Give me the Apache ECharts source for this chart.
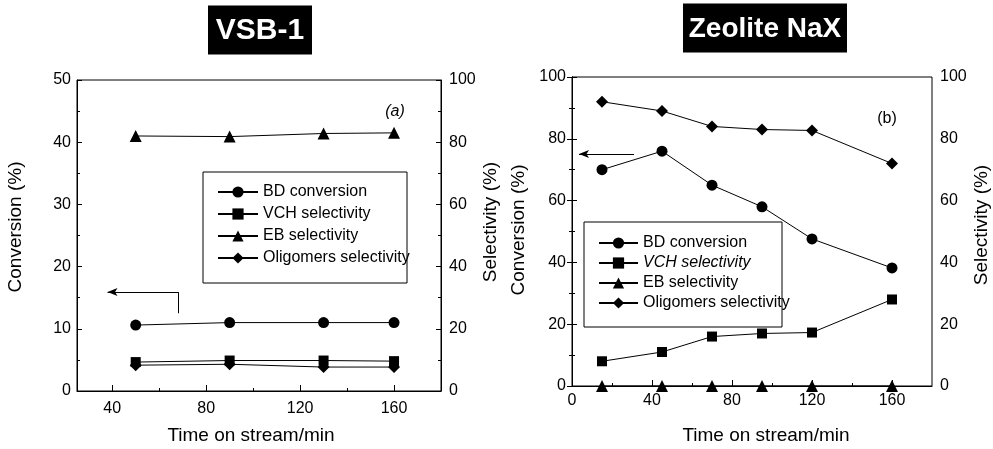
<!DOCTYPE html>
<html>
<head>
<meta charset="utf-8">
<title>VSB-1 vs Zeolite NaX</title>
<script src="https://cdn.jsdelivr.net/npm/echarts@6.0.0/dist/echarts.min.js"></script>
<style>
  html, body { margin: 0; padding: 0; background: #fff; }
  #chart { width: 993px; height: 449px; }
</style>
</head>
<body>
<div id="chart"></div>
<script>
// panel (a) VSB-1
const timeA = [50, 90, 130, 160]
const bdConvA = [10.6, 11, 11, 11]
const vchSelA = [9.3, 9.8, 9.8, 9.6]
const ebSelA = [82, 81.8, 82.8, 83]
const oligSelA = [8.3, 8.6, 7.7, 7.7]

// panel (b) Zeolite NaX
const timeB = [15, 45, 70, 95, 120, 160]
const bdConvB = [70, 76, 65, 58, 47.6, 38.2]
const vchSelB = [8, 11, 16, 17, 17.3, 28]
const ebSelB = [0, 0, 0, 0, 0, 0]
const oligSelB = [92, 89, 84, 83, 82.7, 72]

// tick labels
const xTicksA = [40, 80, 120, 160]
const xMinorA = [60, 100, 140]
const xTicksB = [0, 40, 80, 120, 160]
const xMinorB = [20, 60, 100, 140]

const legendNames = ['BD conversion', 'VCH selectivity', 'EB selectivity', 'Oligomers selectivity']
const symbols = ['circle', 'rect', 'triangle', 'diamond']
const symbolSizes = [11, 10, 12, 12]

// arrows pointing to the conversion axis
const arrowA = [[68, 12.5], [68, 15.9], [38, 15.9]]
const arrowB = [[31, 75.1], [3.5, 75.1]]

const FONT = 'Liberation Sans, Arial, sans-serif'

function pairs(xs, ys) {
  return xs.map((x, i) => [x, ys[i]])
}

function valueAxisY(gridIndex, max, interval, position) {
  return {
    type: 'value',
    gridIndex: gridIndex,
    position: position,
    min: 0,
    max: max,
    interval: interval,
    splitLine: { show: false },
    axisLine: { show: true, lineStyle: { color: '#000', width: 1 } },
    axisTick: { show: true, inside: true, length: 5, lineStyle: { color: '#000' } },
    minorTick: { show: true, splitNumber: 2, length: 3, lineStyle: { color: '#000' } },
    axisLabel: { color: '#000', fontSize: 16, fontFamily: FONT, margin: position === 'left' ? 6 : 8 }
  }
}

function xAxisMain(gridIndex, min, ticks, margin) {
  return {
    type: 'value',
    gridIndex: gridIndex,
    min: min,
    max: 180,
    splitLine: { show: false },
    axisLine: { show: true, onZero: false, lineStyle: { color: '#000', width: 1 } },
    axisTick: { show: true, inside: true, length: 6, customValues: ticks, lineStyle: { color: '#000' } },
    axisLabel: { color: '#000', fontSize: 16, fontFamily: FONT, margin: margin, customValues: ticks }
  }
}

function xAxisMinor(gridIndex, min, ticks) {
  return {
    type: 'value',
    gridIndex: gridIndex,
    position: 'bottom',
    min: min,
    max: 180,
    splitLine: { show: false },
    axisLine: { show: false, onZero: false },
    axisTick: { show: true, inside: true, length: 3, customValues: ticks, lineStyle: { color: '#000' } },
    axisLabel: { show: false }
  }
}

function lineSeries(k, xAxisIndex, yAxisIndex, data) {
  return {
    name: legendNames[k],
    type: 'line',
    xAxisIndex: xAxisIndex,
    yAxisIndex: yAxisIndex,
    data: data,
    symbol: symbols[k],
    symbolSize: symbolSizes[k],
    lineStyle: { color: '#000', width: 1 },
    itemStyle: { color: '#000' },
    silent: true,
    animation: false
  }
}

function arrow(points) {
  const data = []
  for (let i = 0; i < points.length - 1; i++) {
    const last = i === points.length - 2
    data.push([
      { coord: points[i], symbol: 'none' },
      { coord: points[i + 1], symbol: last ? 'arrow' : 'none', symbolSize: [6, 10] }
    ])
  }
  return {
    silent: true,
    label: { show: false },
    lineStyle: { color: '#000', width: 1, type: 'solid' },
    data: data
  }
}

function titleBox(cx, cy, w, h, text, size) {
  return {
    type: 'group',
    children: [
      { type: 'rect', shape: { x: cx - w / 2, y: cy - h / 2, width: w, height: h }, style: { fill: '#000' } },
      {
        type: 'text', x: cx, y: cy + 1,
        style: { text: text, fill: '#fff', font: 'bold ' + size + 'px ' + FONT, align: 'center', verticalAlign: 'middle' }
      }
    ]
  }
}

function vText(x, y, text) {
  return {
    type: 'text', x: x, y: y, rotation: Math.PI / 2,
    style: { text: text, fill: '#000', font: '19px ' + FONT, align: 'center', verticalAlign: 'middle' }
  }
}

function hText(x, y, text, font) {
  return {
    type: 'text', x: x, y: y,
    style: { text: text, fill: '#000', font: font || '19px ' + FONT, align: 'center', verticalAlign: 'middle' }
  }
}

const seriesA = [
  lineSeries(0, 0, 0, pairs(timeA, bdConvA)),
  lineSeries(1, 0, 1, pairs(timeA, vchSelA)),
  lineSeries(2, 0, 1, pairs(timeA, ebSelA)),
  lineSeries(3, 0, 1, pairs(timeA, oligSelA))
]
seriesA[0].markLine = arrow(arrowA)

const seriesB = [
  lineSeries(0, 2, 2, pairs(timeB, bdConvB)),
  lineSeries(1, 2, 3, pairs(timeB, vchSelB)),
  lineSeries(2, 2, 3, pairs(timeB, ebSelB)),
  lineSeries(3, 2, 3, pairs(timeB, oligSelB))
]
seriesB[0].markLine = arrow(arrowB)

const legendBase = {
  orient: 'vertical',
  padding: 0,
  itemGap: 6,
  itemHeight: 14,
  selectedMode: false,
  textStyle: { color: '#000', fontSize: 16, fontFamily: FONT, lineHeight: 14 },
  data: legendNames
}

const option = {
  animation: false,
  backgroundColor: '#fff',
  grid: [
    { left: 77, top: 80, width: 364, height: 311, show: true, borderColor: '#000', borderWidth: 1 },
    { left: 572, top: 77, width: 360, height: 309, show: true, borderColor: '#000', borderWidth: 1 }
  ],
  xAxis: [
    xAxisMain(0, 25, xTicksA, 10),
    xAxisMinor(0, 25, xMinorA),
    xAxisMain(1, 0, xTicksB, 7),
    xAxisMinor(1, 0, xMinorB)
  ],
  yAxis: [
    valueAxisY(0, 50, 10, 'left'),
    valueAxisY(0, 100, 20, 'right'),
    valueAxisY(1, 100, 20, 'left'),
    valueAxisY(1, 100, 20, 'right')
  ],
  legend: [
    Object.assign({}, legendBase, { left: 217, top: 184, itemWidth: 40 }),
    Object.assign({}, legendBase, {
      left: 598, top: 235, itemWidth: 39, itemGap: 4,
      formatter: name => name === 'VCH selectivity' ? '{i|' + name + '}' : name,
      textStyle: {
        color: '#000', fontSize: 16, fontFamily: FONT, lineHeight: 14,
        rich: { i: { fontStyle: 'italic', fontSize: 16, fontFamily: FONT, color: '#000' } }
      }
    })
  ],
  graphic: [
    titleBox(260, 30, 104, 49, 'VSB-1', 30),
    titleBox(765, 28, 164, 49, 'Zeolite NaX', 28),
    { type: 'rect', shape: { x: 203, y: 172, width: 204, height: 111 }, style: { fill: 'none', stroke: '#000', lineWidth: 1 } },
    { type: 'rect', shape: { x: 584, y: 222, width: 198, height: 105 }, style: { fill: 'none', stroke: '#000', lineWidth: 1 } },
    vText(16, 227, 'Conversion (%)'),
    vText(491, 222, 'Selectivity (%)'),
    vText(519, 230, 'Conversion (%)'),
    vText(982, 225, 'Selectivity (%)'),
    hText(251, 436, 'Time on stream/min'),
    hText(766, 436, 'Time on stream/min'),
    hText(395, 112, '(a)', 'italic 16px ' + FONT),
    hText(887, 119, '(b)', '16px ' + FONT)
  ],
  series: seriesA.concat(seriesB)
}

const chart = echarts.init(document.getElementById('chart'))
chart.setOption(option)
window.addEventListener('resize', () => chart.resize())
</script>
</body>
</html>
